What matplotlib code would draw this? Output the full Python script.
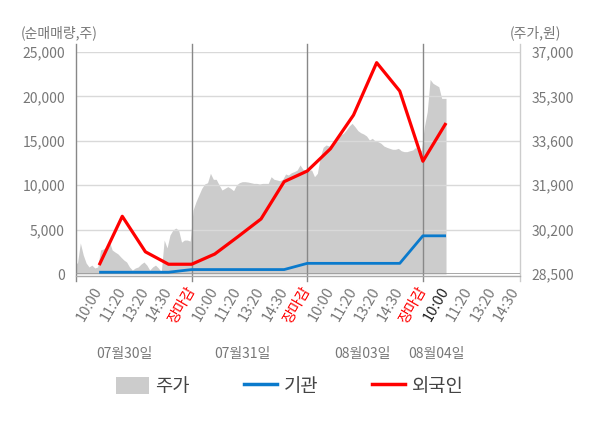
import matplotlib
matplotlib.use("Agg")
import matplotlib.pyplot as plt
from matplotlib.patches import Patch
from matplotlib.lines import Line2D
import numpy as np

plt.rcParams['font.family'] = ['Noto Sans CJK KR', 'DejaVu Sans']

# ---- data ----
time_labels = ["10:00", "11:20", "13:20", "14:30", "장마감",
               "10:00", "11:20", "13:20", "14:30", "장마감",
               "10:00", "11:20", "13:20", "14:30", "장마감",
               "10:00", "11:20", "13:20", "14:30"]
date_labels = ["07월30일", "07월31일", "08월03일", "08월04일"]

foreign = [1000, 6500, 2500, 1100, 1100, 2250, 4200, 6200, 10400, 11600,
           14100, 17900, 23800, 20600, 12700, 17000]
institution = [200, 200, 200, 200, 500, 500, 500, 500, 500, 1200,
               1200, 1200, 1200, 1200, 4300, 4300]

price_day1 = [28920, 29690, 29230, 28920, 28770, 28840, 28730, 28770, 29420, 29460,
              29530, 29760, 29420, 29340, 29270, 29150, 29040, 28960, 28770, 28650,
              28730, 28770, 28880, 28960, 28840, 28650, 28770, 28840, 28730, 28580,
              29800, 29500, 29990, 30180, 30260, 30180, 29720, 29800, 29800, 29760]
price_day2 = [30950, 31270, 31525, 31780, 31945, 31995, 32355, 32125, 32125, 31910,
              31715, 31780, 31845, 31780, 31690, 31910, 31995, 32035, 32035, 32020,
              31995, 31970, 31970, 31945, 31970, 31970, 31970, 32225, 32125, 32100,
              32070, 32125, 32330, 32290, 32380, 32420, 32480, 32675, 32510, 32480]
price_day3 = [32480, 32480, 32225, 32355, 32990, 33350, 33440, 33400, 33440, 33530,
              33655, 33820, 33885, 34015, 34165, 34270, 34140, 33990, 33910, 33860,
              33785, 33630, 33695, 33590, 33565, 33505, 33400, 33350, 33310, 33275,
              33275, 33310, 33220, 33185, 33185, 33220, 33250, 33350, 33185, 33250]
price_day4 = [34140, 34715, 35950, 35800, 35735, 35670, 35225, 35225]

left_ticks = [0, 5000, 10000, 15000, 20000, 25000]
right_ticks = [28500, 30200, 31900, 33600, 35300, 37000]

# ---- figure ----
fig = plt.figure(figsize=(6.0, 4.28), dpi=100)
ax = fig.add_axes([0.1267, 0.3598, 0.74, 0.5187])
ax2 = ax.twinx()
ax.set_zorder(ax2.get_zorder() + 1)
ax.patch.set_visible(False)
ax2.patch.set_facecolor('#f4f4f4')

n_slots = len(time_labels)
slots_per_day = 5
pts_per_day = len(price_day1)
step = slots_per_day / pts_per_day
x_max = n_slots + 0.2

# price area
days = [price_day1, price_day2, price_day3, price_day4]
px, py = [], []
for d, vals in enumerate(days):
    start = d * slots_per_day
    for i, v in enumerate(vals):
        px.append(start + (i + 0.5) * step)
        py.append(v)
px = np.array(px)
py = np.array(py)
px_full = np.concatenate([[0], px, [px[-1] + step / 2]])
py_full = np.concatenate([[py[0]], py, [py[-1]]])
ax2.fill_between(px_full, right_ticks[0], py_full, color='#cccccc', lw=0, zorder=1)
ax2.set_ylim(right_ticks[0], right_ticks[-1])
ax2.set_yticks(right_ticks)
ax2.set_yticklabels([f"{v:,}" for v in right_ticks])

# grid lines
for t in left_ticks[1:]:
    ax.axhline(t, color='#d9d9d9', lw=1, zorder=0.5)

# lines
xpos = np.arange(1, len(foreign) + 1)
ax.plot(xpos, institution, color='#0a7acc', lw=2.0, zorder=3, solid_capstyle='butt')
ax.plot(xpos, foreign, color='#ff0000', lw=2.3, zorder=4, solid_capstyle='butt')

ax.set_xlim(0, x_max)
ax.set_ylim(left_ticks[0], left_ticks[-1])
ax.set_yticks(left_ticks)
ax.set_yticklabels([f"{v:,}" for v in left_ticks])

# vertical day separators
for xv in [0, 5, 10, 15]:
    ax.axvline(xv, ymin=-0.03, ymax=1.035, color='#888888', lw=1, clip_on=False, zorder=2)
ax.axvline(x_max, ymin=-0.03, ymax=1.035, color='#cccccc', lw=1, clip_on=False, zorder=2)
ax.axhline(0, color='#999999', lw=1.2, zorder=2)
ax.plot([0, x_max], [-250, -250], color='#aaaaaa', lw=1, clip_on=False, zorder=2)

for a in (ax, ax2):
    for s in a.spines.values():
        s.set_visible(False)
    a.tick_params(axis='y', length=0, labelsize=10, colors='#777777', pad=8)

ax.set_xticks(np.arange(1, n_slots + 1))
ax.set_xticklabels(time_labels, rotation=60, ha='right', va='center', rotation_mode='anchor')
ax.tick_params(axis='x', length=0, labelsize=10.5, pad=10)
for i, lab in enumerate(ax.get_xticklabels()):
    if time_labels[i] == "장마감":
        lab.set_color('#ff0000')
    elif i == 15:
        lab.set_color('#222222')
    else:
        lab.set_color('#777777')

# date labels
for xd, txt in zip([2.1, 7.2, 12.4, 15.6], date_labels):
    ax.text(xd, -0.36, txt, transform=ax.get_xaxis_transform(), ha='center', va='center',
            fontsize=10, color='#777777')

fig.text(0.035, 0.923, "(순매매량,주)", fontsize=10, color='#777777', ha='left', va='center')
fig.text(0.935, 0.923, "(주가,원)", fontsize=10, color='#777777', ha='right', va='center')

handles = [Patch(facecolor='#cccccc', edgecolor='none'),
           Line2D([0], [0], color='#0a7acc', lw=2.5),
           Line2D([0], [0], color='#ff0000', lw=2.5)]
leg = fig.legend(handles, ["주가", "기관", "외국인"], loc='center', bbox_to_anchor=(0.483, 0.098),
                 ncol=3, frameon=False, fontsize=13.5, handlelength=1.75, handleheight=1.0,
                 columnspacing=2.9, handletextpad=0.35)
for t in leg.get_texts():
    t.set_color('#444444')

fig.savefig("out.png", dpi=100)
